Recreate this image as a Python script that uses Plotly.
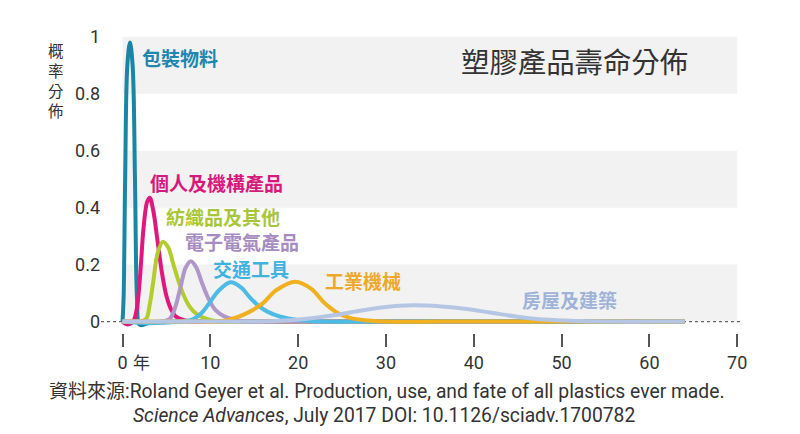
import plotly.graph_objects as go

# values (years, probability density)
tail_x = [30, 36, 42, 48, 54, 60, 64]
tail_y = [0, 0, 0, 0, 0, 0, 0]

packaging_x = [0, 0.12, 0.3, 0.55, 0.85, 1.15, 1.42, 1.65, 1.9, 2.3, 3.0, 4.5, 7, 10, 14, 18, 22, 26] + tail_x
packaging_y = [0, 0.08, 0.5, 0.9, 0.98, 0.9, 0.5, 0.08, -0.01, -0.012, -0.004, 0, 0, 0, 0, 0, 0, 0] + tail_y

consumer_x = [0, 0.6, 1.2, 1.6, 2.0, 2.4, 2.8, 3.1, 3.5, 4.0, 4.5, 5.0, 5.5, 6.0, 7.0, 8.0, 10, 14, 18, 22, 26] + tail_x
consumer_y = [0, -0.01, 0, 0.04, 0.16, 0.33, 0.42, 0.435, 0.39, 0.28, 0.17, 0.09, 0.045, 0.02, 0.005, 0, 0, 0, 0, 0, 0] + tail_y

textile_x = [0, 1.0, 2.0, 2.7, 3.1, 3.5, 4.0, 4.6, 5.2, 5.8, 6.4, 7.0, 7.7, 8.5, 9.5, 11, 14, 18, 22, 26] + tail_x
textile_y = [0, 0, 0, 0.01, 0.06, 0.14, 0.24, 0.28, 0.26, 0.2, 0.14, 0.09, 0.05, 0.025, 0.01, 0, 0, 0, 0, 0] + tail_y

electrical_x = [0, 2.0, 4.5, 5.4, 6.0, 6.6, 7.2, 7.8, 8.4, 9.0, 9.8, 10.6, 11.5, 13, 14.5, 18, 22, 26] + tail_x
electrical_y = [0, 0, 0, 0.01, 0.05, 0.12, 0.19, 0.212, 0.19, 0.14, 0.08, 0.04, 0.02, 0.005, 0, 0, 0, 0] + tail_y

transport_x = [0, 3.0, 6.5, 8.0, 9.0, 10.0, 11.0, 12.3, 13.5, 14.5, 15.5, 16.5, 18, 20, 23, 26] + tail_x
transport_y = [0, -0.006, 0, 0.008, 0.03, 0.07, 0.11, 0.138, 0.12, 0.085, 0.055, 0.035, 0.017, 0.006, 0, 0] + tail_y

industrial_x = [0, 4, 8, 11, 13, 14.5, 16, 17.5, 19.7, 21.5, 23, 24.5, 26, 28] + tail_x
industrial_y = [0, 0, 0, 0, 0.015, 0.035, 0.065, 0.11, 0.14, 0.115, 0.065, 0.03, 0.012, 0.004] + tail_y

building_x = [0, 4, 8, 11, 14, 18, 21, 24, 27, 30, 33, 36, 39, 42, 45, 48, 52, 56, 60, 64]
building_y = [0, 0, 0, 0, 0, 0.003, 0.01, 0.022, 0.038, 0.051, 0.057, 0.054, 0.045, 0.031, 0.017, 0.007, 0.002, 0, 0, 0]

x_ticks = [0, 10, 20, 30, 40, 50, 60, 70]
x_ticktext = ["0", "10", "20", "30", "40", "50", "60", "70"]
y_ticks = [0, 0.2, 0.4, 0.6, 0.8, 1]
y_ticktext = ["0", "0.2", "0.4", "0.6", "0.8", "1"]

# drawn in this order: packaging at the bottom, building on top
series = [
    ("包裝物料", packaging_x, packaging_y, "#1a85a5", "#1f86ad", 2.0, 0.926),
    ("個人及機構產品", consumer_x, consumer_y, "#e0187c", "#d6197a", 2.9, 0.49),
    ("紡織品及其他", textile_x, textile_y, "#b2cc2e", "#a9c63a", 4.7, 0.37),
    ("電子電氣產品", electrical_x, electrical_y, "#b097c9", "#a68cc0", 6.9, 0.281),
    ("交通工具", transport_x, transport_y, "#4dbbe6", "#3fb2e0", 10.1, 0.188),
    ("工業機械", industrial_x, industrial_y, "#f0b020", "#eea829", 22.8, 0.144),
    ("房屋及建築", building_x, building_y, "#b4c6e4", "#9fb3d9", 45.3, 0.077),
]

cjk = "Noto Sans CJK TC"
latin = "Roboto, sans-serif"
txt = "#333333"

fig = go.Figure()

# dotted zero line under everything
fig.add_trace(go.Scatter(x=[-2.45, 70.6], y=[0, 0], mode="lines",
                         line=dict(color="#666666", width=1.2, dash="dot"),
                         hoverinfo="skip", showlegend=False))

for name, xs, ys, col, lab_col, lx, ly in series:
    fig.add_trace(go.Scatter(x=xs, y=ys, mode="lines", name=name,
                             line=dict(color=col, width=4, shape="spline", smoothing=1.0),
                             showlegend=False))
    fig.add_annotation(x=lx, y=ly, text="<b>" + name + "</b>", showarrow=False,
                       xanchor="left", yanchor="middle",
                       font=dict(family=cjk, size=19, color=lab_col))

# light grey bands
for y0, y1 in [(0, 0.2), (0.4, 0.6), (0.8, 1.0)]:
    fig.add_shape(type="rect", xref="x", yref="y", x0=0, x1=70, y0=y0, y1=y1,
                  fillcolor="#f2f2f2", line=dict(width=0), layer="below")

fig.add_annotation(x=38.3, y=0.918, text="塑膠產品壽命分佈", showarrow=False,
                   xanchor="left", yanchor="middle",
                   font=dict(family=cjk, size=28.4, color=txt))

# vertical axis title, one character per line
fig.add_annotation(xref="paper", yref="y", x=0, y=1.0, xshift=-45, text="概<br>率<br>分<br>佈",
                   showarrow=False, xanchor="center", yanchor="top",
                   font=dict(family=cjk, size=15.5, color=txt))

fig.add_annotation(x=2.19, y=-0.04, text="年", showarrow=False,
                   xanchor="center", yanchor="middle", yshift=-28,
                   font=dict(family=cjk, size=17, color=txt))

fig.add_annotation(xref="paper", yref="paper", x=-0.0837, y=-0.188, xanchor="left", yanchor="middle",
                   text="<span style='font-family:Noto Sans CJK TC;font-size:19px'>資料來源</span>:"
                        "Roland Geyer et al. Production, use, and fate of all plastics ever made.",
                   showarrow=False, font=dict(family=latin, size=19.3, color=txt))
fig.add_annotation(xref="paper", yref="paper", x=0.046, y=-0.274, xanchor="left", yanchor="middle",
                   text="<i>Science Advances</i>, July 2017 DOI: 10.1126/sciadv.1700782",
                   showarrow=False, font=dict(family=latin, size=19.3, color=txt))

# the page body adds an 8px offset, so margins are shifted to compensate
fig.update_layout(
    width=800, height=434,
    margin=dict(l=93, r=62, t=23, b=109),
    paper_bgcolor="white", plot_bgcolor="white",
    xaxis=dict(range=[-2.45, 71], tickvals=x_ticks, ticktext=x_ticktext,
               showgrid=False, zeroline=False, showline=False,
               ticks="outside", ticklen=13, tickwidth=1.5, tickcolor="#555555",
               tickfont=dict(family=latin, size=18, color=txt)),
    yaxis=dict(range=[-0.04, 1.02], tickvals=y_ticks, ticktext=y_ticktext,
               showgrid=False, zeroline=False, showline=False, ticks="",
               tickfont=dict(family=latin, size=18, color=txt)),
)

fig.write_html("out.html")
